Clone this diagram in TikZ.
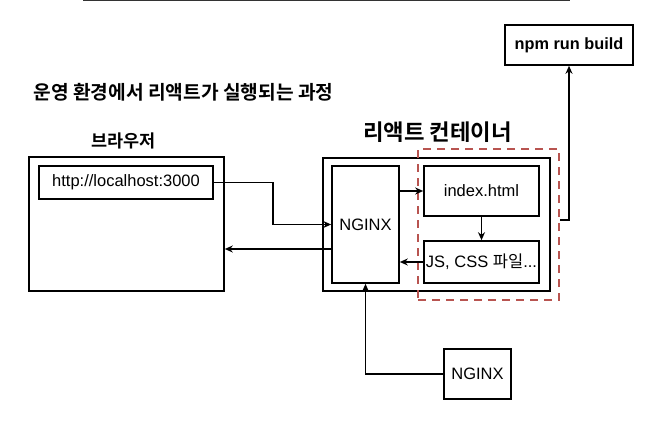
\documentclass[tikz,border=0pt]{standalone}
\usepackage{fontspec}
\setmainfont{Liberation Sans}
\newfontfamily\kr{Noto Sans CJK KR}
\newfontfamily\krb{Noto Sans CJK KR Bold}
\usetikzlibrary{arrows.meta}
\definecolor{dred}{HTML}{B85450}
\begin{document}
\begin{tikzpicture}[x=1pt,y=-1pt,
  box/.style={draw, line width=1.6pt, inner sep=0pt, align=center, font=\fontsize{16.5}{19}\selectfont},
  arr/.style={line width=1.5pt, -{Stealth[length=8pt,width=7pt]}},
  lbl/.style={inner sep=0pt, font=\krb}]
\useasboundingbox (0,0) rectangle (666,425);
\draw[line width=1pt, black!80] (83,1) -- (570,1);
% labels
\node[lbl, font=\krb\fontsize{19.2}{22}\selectfont] (title) at (183.5,92) {운영 환경에서 리액트가 실행되는 과정};
\node[lbl, font=\krb\fontsize{17.5}{20}\selectfont] (blbl) at (123.5,141) {브라우저};
\node[lbl, font=\krb\fontsize{22.3}{26}\selectfont] (clbl) at (437.5,132) {리액트 컨테이너};
% boxes
\node[box, minimum width=195pt, minimum height=134pt] (browser) at (126.5,224) {};
\node[box, minimum width=174pt, minimum height=33pt] (url) at (126,182.5) {http://localhost:3000};
\node[box, minimum width=227pt, minimum height=133pt] (cont) at (436.5,224.5) {};
\node[box, minimum width=67pt, minimum height=117pt] (nginx) at (365.5,224.5) {NGINX};
\node[box, minimum width=115pt, minimum height=50pt] (index) at (481.5,191) {index.html};
\node[box, minimum width=115pt, minimum height=42pt] (js) at (481.5,262) {JS, CSS {\kr 파일}...};
\node[draw=dred, dash pattern=on 8pt off 6pt, line width=2pt, inner sep=0pt, minimum width=141pt, minimum height=151pt] (dash) at (488.5,224.5) {};
\node[box, minimum width=128pt, minimum height=40pt, font=\bfseries\fontsize{16.3}{19}\selectfont] (npm) at (569,45) {npm run build};
\node[box, minimum width=67pt, minimum height=50pt] (nginx2) at (477.5,374) {NGINX};
% connectors
\coordinate (c1) at (273,224.5);
\coordinate (r) at (0,249);
\coordinate (u) at (0,220);
\draw[arr] (url.east) -| (c1) -- (nginx.west);
\draw[arr] (nginx.west |- r) -- (browser.east |- r);
\draw[arr] (nginx.east |- index.west) -- (index.west);
\draw[arr] (index.south) -- (js.north);
\draw[arr] (js.west) -- (nginx.east |- js.west);
\draw[arr] (dash.east |- u) -| (npm.south);
\draw[arr] (nginx2.west) -| (nginx.south);
\end{tikzpicture}
\end{document}
